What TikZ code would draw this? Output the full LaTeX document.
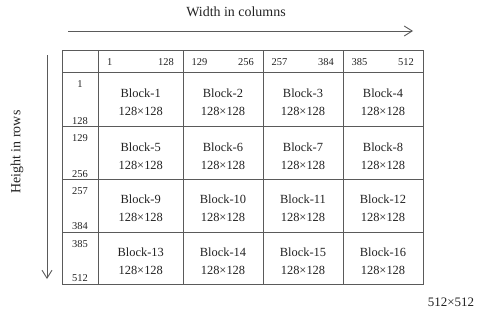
\documentclass[tikz,border=0pt]{standalone}
\usepackage{fontspec}
\setmainfont{Liberation Serif}
\usetikzlibrary{arrows.meta}
\definecolor{gridgray}{HTML}{5A5A5A}
\definecolor{txt}{HTML}{222222}
\tikzset{
  gridline/.style={draw=gridgray, line width=0.9bp},
  axisarrow/.style={draw=gridgray, line width=0.9bp, -{Straight Barb[length=8bp,width=10bp]}},
  blocktext/.style={text=txt, align=center, inner sep=0pt, font=\fontsize{12.5}{18.5}\selectfont},
  numtext/.style={text=txt, inner sep=0pt, font=\fontsize{10.5}{12}\selectfont},
  titletext/.style={text=txt, inner sep=0pt, font=\fontsize{14}{16}\selectfont},
}
\begin{document}
\begin{tikzpicture}[x=1bp,y=-1bp]
\useasboundingbox (0,0) rectangle (480,315);
% grid
\def\xs{{62,98.5,183,263,343,423}}
\def\ys{{50,72,126.5,179.5,232,284}}
\draw[gridline] (62,50) rectangle (423,284);
\foreach \x in {98.5,183,263,343} \draw[gridline] (\x,50) -- (\x,284);
\foreach \y in {72,126.5,179.5,232} \draw[gridline] (62,\y) -- (423,\y);
% titles and arrows
\node[titletext] (wtitle) at (236,12) {Width in columns};
\coordinate (wstart) at (68,31);
\coordinate (wend) at (413,31);
\draw[axisarrow] (wstart) -- (wend);
\node[titletext, rotate=90] (htitle) at (17,152) {Height in rows};
\coordinate (hstart) at (47,55);
\coordinate (hend) at (47,279);
\draw[axisarrow] (hstart) -- (hend);
\node[titletext, font=\fontsize{13}{15}\selectfont] (size) at (451,302) {512×512};
% column headers
\foreach \l/\r/\a/\b [count=\i] in {98.5/183/1/128, 183/263/129/256, 263/343/257/384, 343/423/385/512}{
  \node[numtext, anchor=west] (ch\i a) at (\l+8.5,61.7) {\a};
  \node[numtext, anchor=east] (ch\i b) at (\r-9,61.7) {\b};
}
% row labels
\foreach \t/\bt/\a/\b [count=\i] in {72/126.5/1/128, 126.5/179.5/129/256, 179.5/232/257/384, 232/284/385/512}{
  \node[numtext] (rh\i a) at (80,\t+12) {\a};
  \node[numtext] (rh\i b) at (80,\bt-5.6) {\b};
}
% blocks
\foreach \y [count=\r from 0] in {102,156.5,208.5,261}{
  \foreach \x [count=\c] in {140.75,223,303,383}{
    \pgfmathtruncatemacro{\n}{\r*4+\c}
    \node[blocktext] (b\n) at (\x,\y) {Block-\n\\128×128};
  }
}
\end{tikzpicture}
\end{document}
